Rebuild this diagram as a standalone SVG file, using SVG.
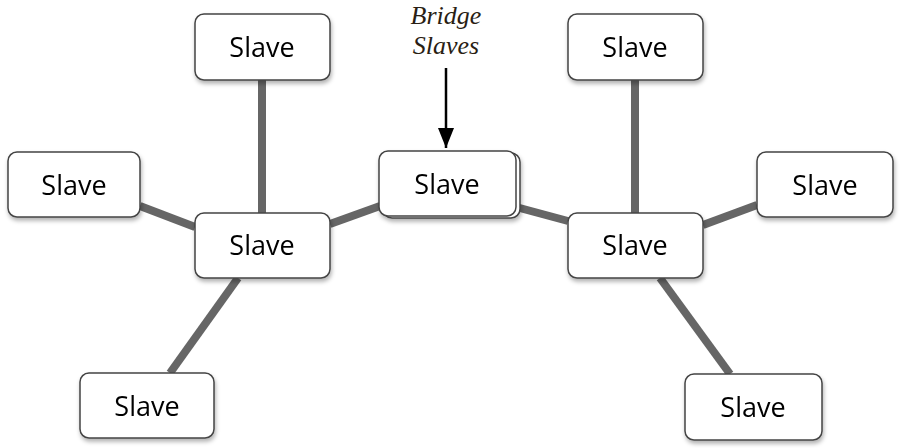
<svg xmlns="http://www.w3.org/2000/svg" width="900" height="448" viewBox="0 0 900 448">
<defs>
<style>
.n{fill:#fff;stroke:#444;stroke-width:1.5}
.t{font-family:"Open Sans","DejaVu Sans",sans-serif;font-size:27px;fill:#000;text-anchor:middle}
.c{stroke:#666;stroke-width:8;fill:none}
.lb{font-family:"Liberation Serif",serif;font-style:italic;font-size:26px;fill:#2a1e14;text-anchor:middle}
</style>
<filter id="sh" x="-10%" y="-10%" width="130%" height="140%"><feDropShadow dx="1" dy="3" stdDeviation="2" flood-color="#000" flood-opacity="0.3"/></filter>
</defs>
<g id="connectors">
<line class="c" x1="262" y1="80" x2="262" y2="213"/>
<line class="c" x1="635" y1="80" x2="635" y2="213"/>
<line class="c" x1="140" y1="206" x2="195" y2="227"/>
<line class="c" x1="330" y1="224" x2="380" y2="206"/>
<line class="c" x1="516" y1="207" x2="568" y2="221"/>
<line class="c" x1="703" y1="225" x2="757" y2="205"/>
<line class="c" x1="238" y1="278" x2="170" y2="373"/>
<line class="c" x1="660" y1="278" x2="730" y2="374"/>
<line x1="446" y1="68" x2="446" y2="148" stroke="#000" stroke-width="2.5"/>
<path d="M438,128L454,128L446,148z" fill="#000"/>
</g>
<g id="label"><text class="lb" x="446" y="24">Bridge</text><text class="lb" x="446" y="54">Slaves</text></g>
<g id="n1" filter="url(#sh)"><rect class="n" x="195" y="14" width="135" height="66" rx="9"/><text class="t" x="262" y="57">Slave</text></g>
<g id="n2" filter="url(#sh)"><rect class="n" x="568" y="14" width="135" height="66" rx="9"/><text class="t" x="635" y="57">Slave</text></g>
<g id="n3" filter="url(#sh)"><rect class="n" x="8" y="152" width="132" height="65" rx="9"/><text class="t" x="74" y="195">Slave</text></g>
<g id="n4" filter="url(#sh)"><rect class="n" x="195" y="213" width="135" height="65" rx="9"/><text class="t" x="262" y="255">Slave</text></g>
<g id="n5" filter="url(#sh)"><rect class="n" x="383" y="153" width="137" height="65" rx="9"/><rect class="n" x="379" y="151" width="137" height="65" rx="9"/><text class="t" x="447" y="194">Slave</text></g>
<g id="n6" filter="url(#sh)"><rect class="n" x="568" y="213" width="135" height="65" rx="9"/><text class="t" x="635" y="255">Slave</text></g>
<g id="n7" filter="url(#sh)"><rect class="n" x="757" y="152" width="136" height="65" rx="9"/><text class="t" x="825" y="195">Slave</text></g>
<g id="n8" filter="url(#sh)"><rect class="n" x="80" y="373" width="134" height="65" rx="9"/><text class="t" x="147" y="416">Slave</text></g>
<g id="n9" filter="url(#sh)"><rect class="n" x="685" y="374" width="137" height="66" rx="9"/><text class="t" x="753" y="417">Slave</text></g>
</svg>
